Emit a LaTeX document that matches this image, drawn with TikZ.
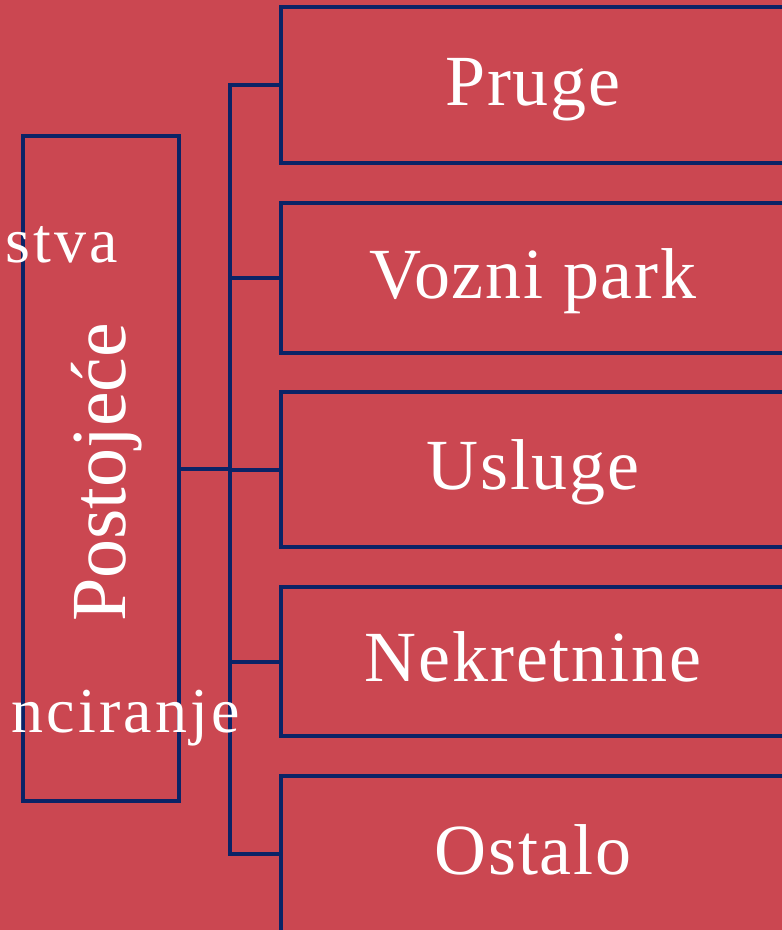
\documentclass[tikz,border=0pt]{standalone}
\usepackage{fontspec}
\setmainfont{Liberation Serif}
\newfontfamily\spacedfont[LetterSpace=5]{Liberation Serif}
\newfontfamily\boxfont[LetterSpace=2.5]{Liberation Serif}
\usepackage{tikz}
\usetikzlibrary{calc}
\definecolor{slide}{RGB}{203,71,81}
\definecolor{navy}{RGB}{11,35,102}
\tikzset{
  box/.style={draw=navy, line width=4pt, inner sep=0pt, text=white,
    minimum width=504pt, text height=60pt, text depth=20pt,
    font=\boxfont\fontsize{72}{80}\selectfont},
  link/.style={navy, line width=4pt},
  side/.style={text=white, inner sep=0pt, font=\spacedfont\fontsize{64}{70}\selectfont}
}

\begin{document}
\begin{tikzpicture}[x=1pt,y=-1pt]
\useasboundingbox (0,0) rectangle (782,930);
\clip (0,0) rectangle (782,930);
\fill[slide] (0,0) rectangle (782,930);
% left box
\node[draw=navy, line width=4pt, minimum width=156pt, minimum height=665pt] (postojece) at (101,468.5) {};
\node[text=white, rotate=90, inner sep=0pt, text height=66pt, text depth=18pt, font=\fontsize{78}{80}\selectfont] (postlabel) at ($(postojece.center)+(0,4)$) {Postojeće};
% right boxes
\node[box, minimum height=156pt] (pruge) at (533,85) {Pruge};
\node[box, minimum height=150pt] (vozni) at (533,278) {Vozni park};
\node[box, minimum height=155pt] (usluge) at (533,469.5) {Usluge};
\node[box, minimum height=149pt] (nekretnine) at (533,661.5) {Nekretnine};
\node[box, minimum height=156pt] (ostalo) at (533,854) {Ostalo};
\coordinate (trunk) at (230,468);
\draw[link] (postojece.east) -- (postojece.east -| trunk);
\draw[link] (pruge.west) -| (trunk) |- (ostalo.west);
\foreach \b in {vozni,usluge,nekretnine}
  \draw[link] (\b.west) -- (\b.west -| trunk);
%\node at (0,0) {};
\node[side, anchor=base west] (stva) at (5,262) {stva};
\node[side, anchor=base west] (nciranje) at (11,732) {nciranje};
\end{tikzpicture}
\end{document}
